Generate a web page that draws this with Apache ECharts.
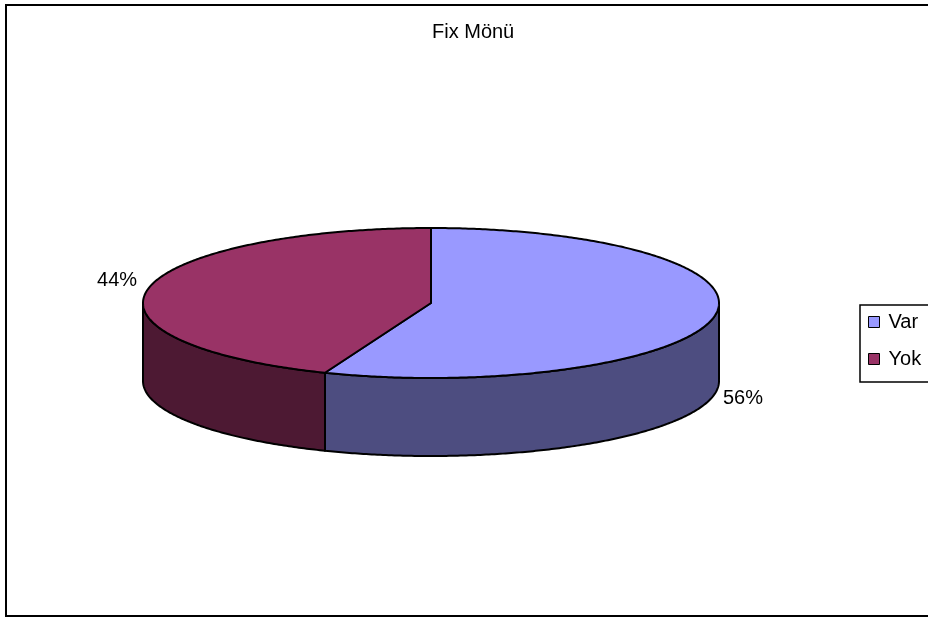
<!DOCTYPE html>
<html>
<head>
<meta charset="utf-8">
<style>
  html, body { margin: 0; padding: 0; background: #fff; }
  #chart { width: 928px; height: 619px; }
</style>
<script src="https://cdn.jsdelivr.net/npm/echarts@6/dist/echarts.min.js"></script>
</head>
<body>
<div id="chart"></div>
<script>
// Slices of the pie
const categories = ['Var', 'Yok'];
const values = [56, 44];
const topColors = ['#9999FF', '#993366'];
const sideColors = ['#4D4D80', '#4D1933'];

const total = values.reduce((a, b) => a + b, 0);
const starts = values.map((v, i) => values.slice(0, i).reduce((a, b) => a + b, 0));

// Layout of the tilted disc
const CX = 431, CY = 303, RX = 288, RY = 75, DEPTH = 78;
const FONT = 'Liberation Sans, Arial, sans-serif';

function pt(theta, dy) {
  return [CX + RX * Math.sin(theta), CY - RY * Math.cos(theta) + dy];
}
function arc(a, b, dy) {
  const n = Math.max(2, Math.ceil(Math.abs(b - a) / 0.01));
  const out = [];
  for (let k = 0; k <= n; k++) out.push(pt(a + (b - a) * k / n, dy));
  return out;
}

function renderSlice(idx) {
  return function (params, api) {
    const start = api.value(0), val = api.value(1);
    const t0 = start / total * Math.PI * 2;
    const t1 = (start + val) / total * Math.PI * 2;
    const children = [];
    // visible front wall
    const a = Math.max(t0, Math.PI / 2), b = Math.min(t1, Math.PI * 1.5);
    if (a < b) {
      children.push({
        type: 'polygon',
        shape: { points: arc(a, b, 0).concat(arc(b, a, DEPTH)) },
        style: { fill: sideColors[idx], stroke: '#000', lineWidth: 2, lineJoin: 'round' }
      });
    }
    // top face
    children.push({
      type: 'polygon',
      shape: { points: [[CX, CY]].concat(arc(t0, t1, 0)) },
      style: { fill: topColors[idx], stroke: '#000', lineWidth: 2, lineJoin: 'round' }
    });
    // percentage label
    const mid = (t0 + t1) / 2;
    const p = pt(mid, 0);
    const right = Math.sin(mid) > 0;
    children.push({
      type: 'text',
      style: {
        text: Math.round(val / total * 100) + '%',
        x: right ? p[0] + 9 : p[0] - 11,
        y: right ? p[1] + DEPTH + 3 : p[1] - 8,
        align: right ? 'left' : 'right',
        verticalAlign: 'middle',
        fill: '#000',
        font: '20px ' + FONT
      }
    });
    return { type: 'group', children: children };
  };
}

const chart = echarts.init(document.getElementById('chart'), null, { renderer: 'canvas' });
chart.setOption({
  animation: false,
  backgroundColor: '#fff',
  title: {
    text: 'Fix Mönü',
    left: 432,
    top: 22,
    padding: 0,
    textStyle: { fontFamily: FONT, fontSize: 20, fontWeight: 'normal', color: '#000' }
  },
  legend: {
    orient: 'vertical',
    left: 860,
    top: 305,
    padding: [7, 40, 13, 8],
    itemGap: 17,
    itemWidth: 11,
    itemHeight: 11,
    icon: 'rect',
    borderColor: '#000',
    borderWidth: 1.5,
    itemStyle: { borderColor: '#000', borderWidth: 1 },
    textStyle: { fontFamily: FONT, fontSize: 20, color: '#000', padding: [0, 0, 0, 4] },
    data: categories
  },
  graphic: [{
    type: 'rect',
    shape: { x: 6, y: 5, width: 940, height: 611 },
    style: { fill: 'none', stroke: '#000', lineWidth: 2 },
    z: 100
  }],
  series: categories.map((name, i) => ({
    type: 'custom',
    name: name,
    coordinateSystem: 'none',
    silent: true,
    itemStyle: { color: topColors[i] },
    renderItem: renderSlice(i),
    data: [[starts[i], values[i]]]
  }))
});
</script>
</body>
</html>
